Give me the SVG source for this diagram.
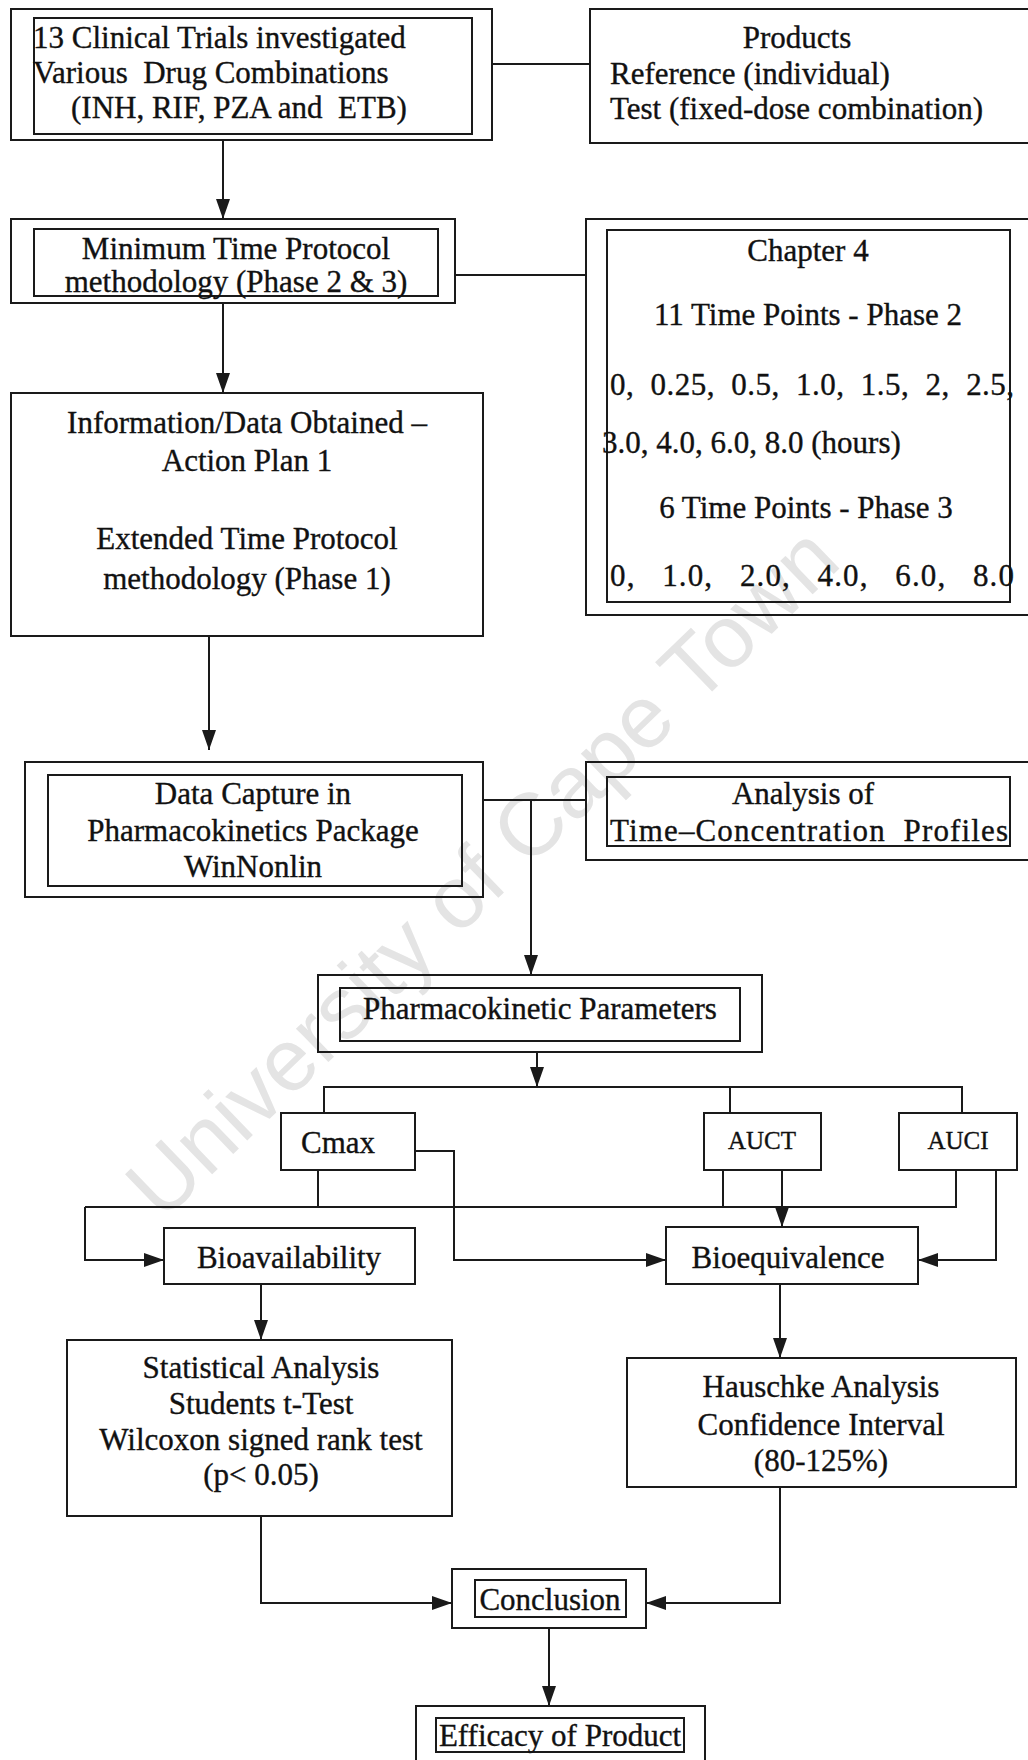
<svg xmlns="http://www.w3.org/2000/svg" width="1028" height="1760" viewBox="0 0 1028 1760">
<style>
.bg{fill:#ffffff}
.box{fill:none;stroke:#1a1a1a;stroke-width:2}
.ibox{fill:none;stroke:#1a1a1a;stroke-width:2}
.t{font-family:"Liberation Serif","Times New Roman",serif;font-size:31px;fill:#111;stroke:#111;stroke-width:0.35}
.s{font-size:25px}
.c{text-anchor:middle}
.ln{fill:none;stroke:#1a1a1a;stroke-width:2}
.wm{font-family:"Liberation Sans",Arial,sans-serif;font-size:88px;fill:#e4e4e4;text-anchor:middle}
</style>
<defs>
<marker id="ah" markerUnits="userSpaceOnUse" viewBox="0 0 20 14" markerWidth="20" markerHeight="14" refX="20" refY="7" orient="auto">
<path d="M0,0 L20,7 L0,14 z" fill="#1a1a1a"/>
</marker>
</defs>
<rect class="bg" x="0" y="0" width="1028" height="1760"/>
<text class="wm" transform="translate(482,872) rotate(-44)" y="30">University of Cape Town</text>

<g id="connectors">
<line class="ln" x1="492" y1="64" x2="590" y2="64"/>
<line class="ln" x1="223" y1="140" x2="223" y2="219" marker-end="url(#ah)"/>
<line class="ln" x1="455" y1="275" x2="586" y2="275"/>
<line class="ln" x1="223" y1="303" x2="223" y2="393" marker-end="url(#ah)"/>
<line class="ln" x1="209" y1="636" x2="209" y2="750" marker-end="url(#ah)"/>
<line class="ln" x1="483" y1="800" x2="586" y2="800"/>
<line class="ln" x1="531" y1="800" x2="531" y2="975" marker-end="url(#ah)"/>
<line class="ln" x1="537" y1="1052" x2="537" y2="1087" marker-end="url(#ah)"/>
<polyline class="ln" points="324,1113 324,1087 962,1087 962,1113"/>
<line class="ln" x1="730" y1="1087" x2="730" y2="1113"/>
<line class="ln" x1="318" y1="1170" x2="318" y2="1207"/>
<line class="ln" x1="85" y1="1207" x2="957" y2="1207"/>
<line class="ln" x1="723" y1="1170" x2="723" y2="1207"/>
<line class="ln" x1="956" y1="1170" x2="956" y2="1207"/>
<polyline class="ln" points="85,1207 85,1260 164,1260" marker-end="url(#ah)"/>
<polyline class="ln" points="415,1151 454,1151 454,1260 666,1260" marker-end="url(#ah)"/>
<line class="ln" x1="782" y1="1170" x2="782" y2="1227" marker-end="url(#ah)"/>
<polyline class="ln" points="996,1170 996,1260 918,1260" marker-end="url(#ah)"/>
<line class="ln" x1="261" y1="1284" x2="261" y2="1340" marker-end="url(#ah)"/>
<line class="ln" x1="780" y1="1284" x2="780" y2="1358" marker-end="url(#ah)"/>
<polyline class="ln" points="261,1516 261,1603 452,1603" marker-end="url(#ah)"/>
<polyline class="ln" points="780,1487 780,1603 646,1603" marker-end="url(#ah)"/>
<line class="ln" x1="549" y1="1628" x2="549" y2="1706" marker-end="url(#ah)"/>
</g>

<g id="n-trials">
<rect class="box" x="11" y="9" width="481" height="131"/>
<rect class="ibox" x="34" y="18" width="438" height="116"/>
<text class="t" x="33" y="48">13 Clinical Trials investigated</text>
<text class="t" x="33" y="83" xml:space="preserve">Various  Drug Combinations</text>
<text class="t" x="71" y="118" xml:space="preserve">(INH, RIF, PZA and  ETB)</text>
</g>

<g id="n-products">
<rect class="box" x="590" y="9" width="460" height="134"/>
<text class="t c" x="797" y="48">Products</text>
<text class="t" x="610" y="84">Reference (individual)</text>
<text class="t" x="610" y="119">Test (fixed-dose combination)</text>
</g>

<g id="n-minimum">
<rect class="box" x="11" y="219" width="444" height="84"/>
<rect class="ibox" x="34" y="229" width="404" height="67"/>
<text class="t c" x="236" y="259">Minimum Time Protocol</text>
<text class="t c" x="236" y="292">methodology (Phase 2 &amp; 3)</text>
</g>

<g id="n-chapter4">
<rect class="box" x="586" y="219" width="460" height="396"/>
<rect class="ibox" x="607" y="230" width="403" height="372"/>
<text class="t c" x="808" y="261">Chapter 4</text>
<text class="t c" x="808" y="325">11 Time Points - Phase 2</text>
<text class="t" x="610" y="395" textLength="404" lengthAdjust="spacing" xml:space="preserve">0,  0.25,  0.5,  1.0,  1.5,  2,  2.5,</text>
<text class="t" x="602" y="453">3.0, 4.0, 6.0, 8.0 (hours)</text>
<text class="t c" x="806" y="518">6 Time Points - Phase 3</text>
<text class="t" x="610" y="586" textLength="404" lengthAdjust="spacing" xml:space="preserve">0,   1.0,   2.0,   4.0,   6.0,   8.0</text>
</g>

<g id="n-information">
<rect class="box" x="11" y="393" width="472" height="243"/>
<text class="t c" x="247" y="433">Information/Data Obtained –</text>
<text class="t c" x="247" y="471">Action Plan 1</text>
<text class="t c" x="247" y="549">Extended Time Protocol</text>
<text class="t c" x="247" y="589">methodology (Phase 1)</text>
</g>

<g id="n-datacapture">
<rect class="box" x="25" y="762" width="458" height="135"/>
<rect class="ibox" x="48" y="775" width="414" height="111"/>
<text class="t c" x="253" y="804">Data Capture in</text>
<text class="t c" x="253" y="841">Pharmacokinetics Package</text>
<text class="t c" x="253" y="877">WinNonlin</text>
</g>

<g id="n-analysis">
<rect class="box" x="586" y="762" width="460" height="98"/>
<rect class="ibox" x="607" y="777" width="403" height="69"/>
<text class="t c" x="803" y="804">Analysis of</text>
<text class="t" x="610" y="841" textLength="398" lengthAdjust="spacing" xml:space="preserve">Time–Concentration  Profiles</text>
</g>

<g id="n-pkparams">
<rect class="box" x="318" y="975" width="444" height="77"/>
<rect class="ibox" x="340" y="988" width="400" height="53"/>
<text class="t c" x="540" y="1019">Pharmacokinetic Parameters</text>
</g>

<g id="n-cmax">
<rect class="box" x="281" y="1113" width="134" height="57"/>
<text class="t c" x="338" y="1153">Cmax</text>
</g>

<g id="n-auct">
<rect class="box" x="704" y="1113" width="117" height="57"/>
<text class="t s c" x="762" y="1149">AUCT</text>
</g>

<g id="n-auci">
<rect class="box" x="899" y="1113" width="118" height="57"/>
<text class="t s c" x="958" y="1149">AUCI</text>
</g>

<g id="n-bioavailability">
<rect class="box" x="164" y="1228" width="251" height="56"/>
<text class="t c" x="289" y="1268">Bioavailability</text>
</g>

<g id="n-bioequivalence">
<rect class="box" x="666" y="1227" width="252" height="57"/>
<text class="t c" x="788" y="1268">Bioequivalence</text>
</g>

<g id="n-statistical">
<rect class="box" x="67" y="1340" width="385" height="176"/>
<text class="t c" x="261" y="1378">Statistical Analysis</text>
<text class="t c" x="261" y="1414">Students t-Test</text>
<text class="t c" x="261" y="1450">Wilcoxon signed rank test</text>
<text class="t c" x="261" y="1485">(p&lt; 0.05)</text>
</g>

<g id="n-hauschke">
<rect class="box" x="627" y="1358" width="389" height="129"/>
<text class="t c" x="821" y="1397">Hauschke Analysis</text>
<text class="t c" x="821" y="1435">Confidence Interval</text>
<text class="t c" x="821" y="1471">(80-125%)</text>
</g>

<g id="n-conclusion">
<rect class="box" x="452" y="1569" width="194" height="59"/>
<rect class="ibox" x="475" y="1580" width="151" height="37"/>
<text class="t c" x="550" y="1610">Conclusion</text>
</g>

<g id="n-efficacy">
<rect class="box" x="416" y="1706" width="289" height="70"/>
<rect class="ibox" x="436" y="1718" width="248" height="34"/>
<text class="t c" x="560" y="1746">Efficacy of Product</text>
</g>
</svg>
